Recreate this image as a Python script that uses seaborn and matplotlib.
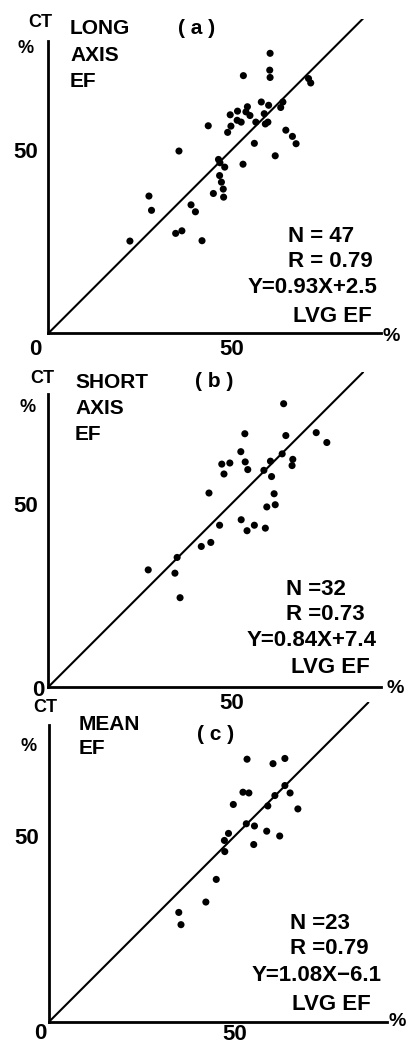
import matplotlib
matplotlib.use("Agg")
import matplotlib.pyplot as plt
import seaborn as sns
import numpy as np

# ---------------- data ----------------
# (a) long axis EF: LVG EF (x) vs CT EF (y)
a_x = [22.3, 27.5, 28.2, 35.7, 34.8, 36.5, 39.0, 40.2, 42.0, 43.7, 45.1, 46.5, 46.9, 48.2,
       46.8, 47.3, 47.8, 47.9, 49.0, 49.9, 49.7, 51.7, 51.6, 52.7, 53.3, 53.2, 54.0, 54.4,
       55.1, 56.3, 56.7, 58.2, 59.0, 59.3, 60.0, 60.2, 60.6, 60.5, 60.6, 62.0, 63.5,
       64.1, 64.9, 66.7, 67.7, 71.1, 71.7]
a_y = [25.2, 37.5, 33.6, 49.8, 27.3, 28.0, 35.1, 33.2, 25.3, 56.7, 38.2, 47.5, 46.6, 45.4,
       43.1, 41.3, 39.4, 37.2, 54.9, 56.6, 59.7, 60.7, 58.2, 57.7, 70.4, 46.2, 60.5, 61.9,
       59.5, 51.9, 57.7, 63.2, 60.0, 57.2, 57.7, 62.3, 76.5, 71.9, 69.9, 48.5, 61.7,
       63.2, 55.5, 53.8, 51.8, 69.6, 68.4]

# (b) short axis EF
b_x = [27.3, 34.6, 35.2, 36.0, 41.8, 44.4, 43.9, 46.8, 47.4, 48.0, 49.6, 52.6, 53.7, 53.8,
       54.5, 52.7, 54.3, 56.3, 59.3, 58.9, 60.7, 61.0, 61.7, 59.7, 62.0, 63.9, 64.3, 64.9,
       66.8, 66.6, 73.2, 76.1]
b_y = [32.0, 31.1, 35.4, 24.4, 38.4, 39.5, 53.0, 44.2, 60.9, 58.2, 61.2, 64.3, 69.2, 61.5,
       59.4, 45.7, 42.7, 44.2, 43.4, 59.2, 61.7, 57.5, 52.8, 49.2, 49.8, 63.7, 77.4, 68.7,
       62.2, 60.5, 69.5, 66.8]

# (c) mean EF
c_x = [34.9, 35.5, 42.2, 45.0, 47.3, 47.2, 48.3, 49.6, 52.2, 53.8, 53.3, 53.1, 55.3, 55.1,
       58.6, 58.9, 60.8, 60.3, 62.1, 63.5, 63.5, 64.9, 67.0]
c_y = [29.4, 26.1, 32.2, 38.3, 45.8, 48.8, 50.7, 58.5, 61.8, 61.6, 70.7, 53.3, 52.7, 47.7,
       51.3, 58.1, 60.9, 69.5, 50.0, 70.9, 63.6, 61.6, 57.3]

titles = [["LONG", "AXIS", "EF"], ["SHORT", "AXIS", "EF"], ["MEAN", "EF"]]
panel_tags = ["( a )", "( b )", "( c )"]
stats = [["N = 47", "R = 0.79", "Y=0.93X+2.5"],
         ["N =32", "R =0.73", "Y=0.84X+7.4"],
         ["N =23", "R =0.79", "Y=1.08X\u22126.1"]]
axis_label = "LVG EF"
tick_vals = [50]
tick_text = ["50"]

# ---------------- style ----------------
sns.set_style("white")
plt.rcParams["font.family"] = ["Liberation Sans", "DejaVu Sans"]
plt.rcParams["font.weight"] = "bold"

W, H = 410, 1043
fig = plt.figure(figsize=(W / 100, H / 100), dpi=100)

def put(x, y, s, size, ha="left"):
    # place text by its visual centre (pixels from top-left)
    base = y + 0.716 * size * 100 / 72 / 2
    fig.text(x / W, 1 - base / H, s, fontsize=size, fontweight="bold",
             ha=ha, va="baseline", color="black")

# axes rectangles: (origin_x_px, origin_y_px, px per unit, x tick pad)
frames = [(48.3, 333.3, 3.66, 4), (48.3, 687.0, 3.66, 4), (49.3, 1021.5, 3.71, 1.5)]
data = [(a_x, a_y), (b_x, b_y), (c_x, c_y)]
XMAX, YMAX, YSPINE = 91, 86, 80

axes = []
for (ox, oy, k, xpad), (xs, ys) in zip(frames, data):
    ax = fig.add_axes([ox / W, (H - oy) / H, XMAX * k / W, YMAX * k / H])
    ax.set_facecolor("none")
    sns.scatterplot(x=xs, y=ys, ax=ax, color="black", s=26, edgecolor="none",
                    linewidth=0, zorder=3)
    ax.axline((0, 0), slope=1, color="black", lw=1.5, zorder=2)
    ax.set_xlim(0, XMAX)
    ax.set_ylim(0, YMAX)
    for sp in ["top", "right"]:
        ax.spines[sp].set_visible(False)
    ax.spines["left"].set_bounds(0, YSPINE)
    ax.spines["left"].set_linewidth(2.0)
    ax.spines["bottom"].set_linewidth(2.0)
    ax.spines["left"].set_color("black")
    ax.spines["bottom"].set_color("black")
    ax.set_xticks(tick_vals)
    ax.set_xticklabels(tick_text)
    ax.set_yticks(tick_vals)
    ax.set_yticklabels(tick_text)
    ax.tick_params(axis="y", direction="out", length=7, width=1.8, pad=0.5,
                   labelsize=16, colors="black")
    ax.tick_params(axis="x", direction="in", length=4, width=1.8, pad=xpad,
                   labelsize=16, colors="black")
    for lab in ax.get_xticklabels() + ax.get_yticklabels():
        lab.set_fontweight("bold")
    ax.set_xlabel("")
    ax.set_ylabel("")
    axes.append(ax)

# ---------------- text (pixel positions of visual centres) ----------------
# panel (a)
put(40, 21, "CT", 13, "center")
put(26, 47, "%", 13, "center")
for t, yy in zip(titles[0], [27, 54, 80]):
    put(70, yy, t, 15)
put(197, 27, panel_tags[0], 15, "center")
put(288, 234, stats[0][0], 16)
put(288, 259, stats[0][1], 16)
put(313, 285, stats[0][2], 16, "center")
put(293, 314, axis_label, 16)
put(35.5, 347, "0", 16, "center")
put(391, 334, "%", 14, "center")

# panel (b)
put(42.5, 377, "CT", 13, "center")
put(28, 406, "%", 13, "center")
for t, yy in zip(titles[1], [381, 407, 433]):
    put(75, yy, t, 15)
put(214, 380, panel_tags[1], 15, "center")
put(286, 587.5, stats[1][0], 16)
put(286, 612.5, stats[1][1], 16)
put(312, 638, stats[1][2], 16, "center")
put(291, 665, axis_label, 16)
put(38.3, 688.5, "0", 16, "center")
put(395, 686, "%", 14, "center")

# panel (c)
put(45.8, 706, "CT", 13, "center")
put(29, 745, "%", 13, "center")
for t, yy in zip(titles[2], [722.5, 746.7]):
    put(79, yy, t, 15)
put(216, 733, panel_tags[2], 15, "center")
put(290, 921, stats[2][0], 16)
put(290, 946, stats[2][1], 16)
put(316.7, 973, stats[2][2], 16, "center")
put(291.7, 1001.7, axis_label, 16)
put(40, 1031, "0", 16, "center")
put(397, 1019.5, "%", 14, "center")

fig.savefig("out.png", dpi=100)
